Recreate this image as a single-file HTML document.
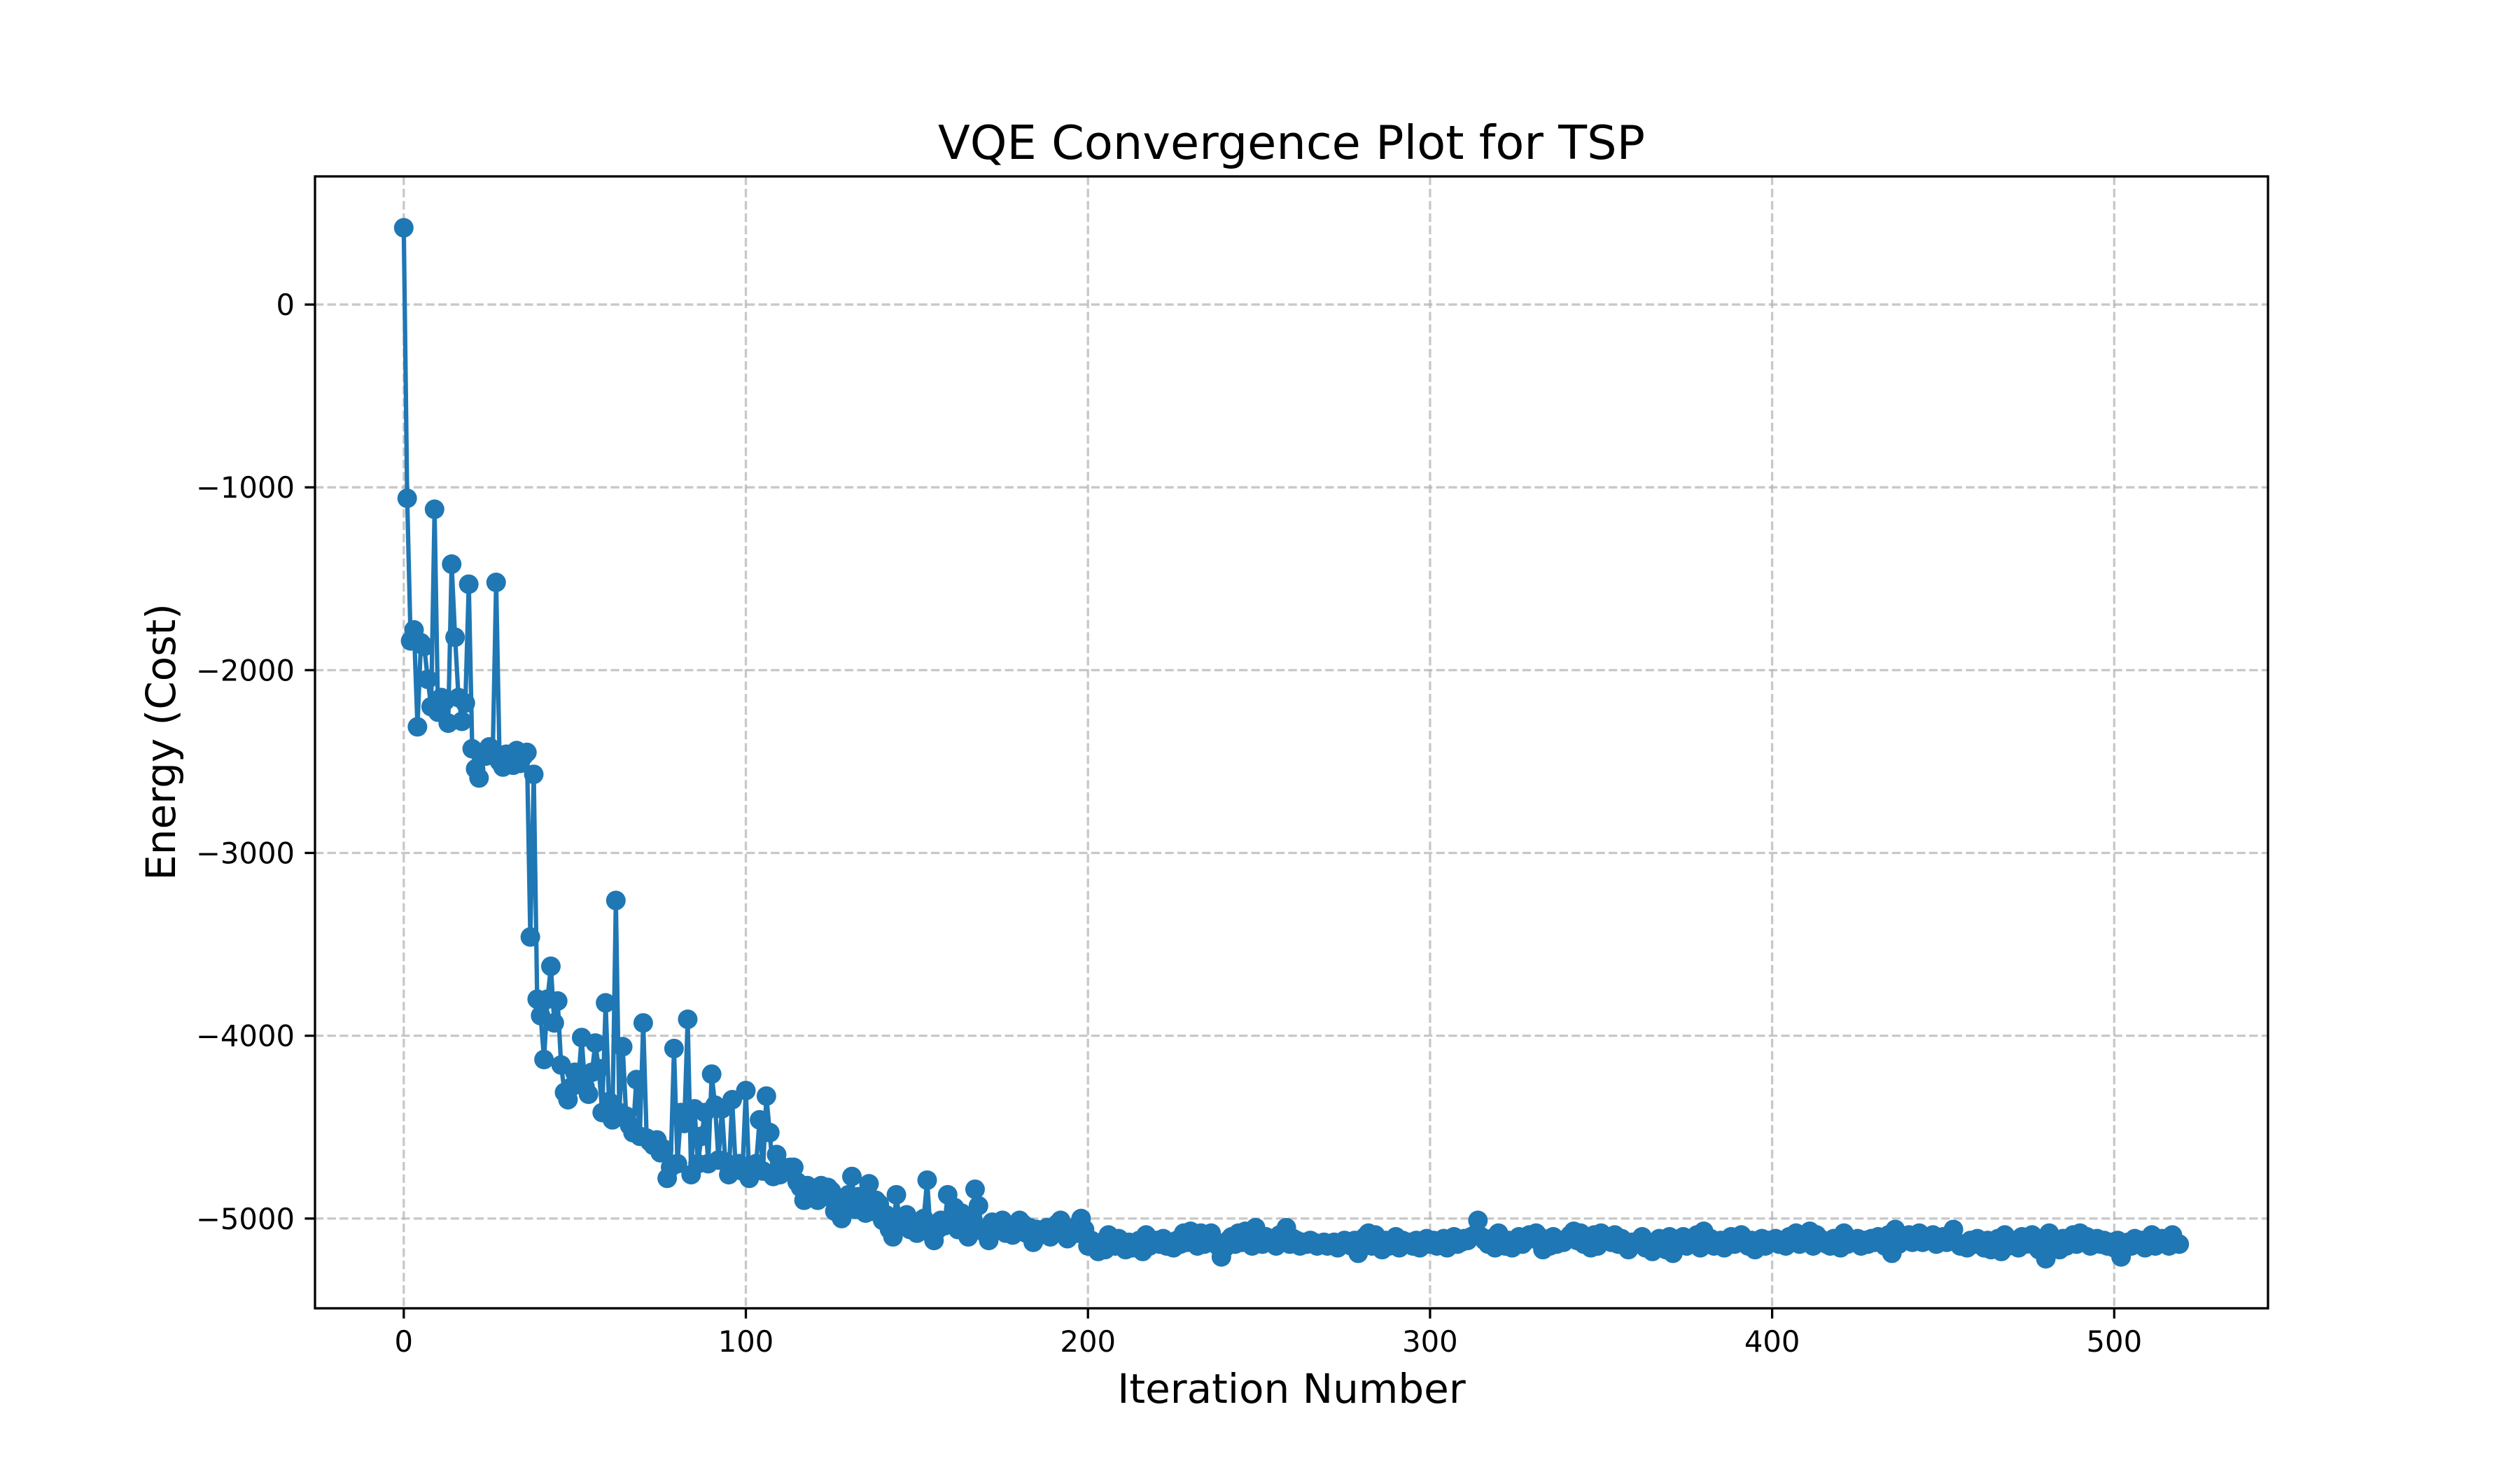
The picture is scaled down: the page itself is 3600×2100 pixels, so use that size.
<!DOCTYPE html>
<html><head><meta charset="utf-8">
<style>
html,body{margin:0;padding:0;background:#fff;}
svg{display:block;font-family:"DejaVu Sans","Liberation Sans",sans-serif;}
</style></head>
<body>
<svg id="chart" width="3600" height="2100" viewBox="0 0 3600 2100">
<rect x="0" y="0" width="3600" height="2100" fill="#fff"/>
<g id="grid"></g>
<g id="series"></g>
<rect x="450" y="252" width="2790" height="1617" fill="none" stroke="#000" stroke-width="3.3"/>
<g id="xticks"></g>
<g id="yticks"></g>
<text x="1845" y="227" font-size="67" text-anchor="middle">VQE Convergence Plot for TSP</text>
<text x="1845" y="2004" font-size="58" text-anchor="middle">Iteration Number</text>
<text x="0" y="0" font-size="58" text-anchor="middle" transform="translate(250,1060) rotate(-90)">Energy (Cost)</text>
</svg>
<script>
const xTickValues = [0,100,200,300,400,500];
const yTickValues = [0,-1000,-2000,-3000,-4000,-5000];
const yTickLabels = ["0","\u22121000","\u22122000","\u22123000","\u22124000","\u22125000"];
const energy = [
420,-1060,-1840,-1780,-2310,-1850,-1870,-2050,-2200,-1120,-2230,-2150,-2170,-2290,-1420,-1820,-2150,-2280,-2180,-1530,
-2430,-2540,-2590,-2450,-2470,-2420,-2460,-1520,-2500,-2530,-2460,-2490,-2520,-2440,-2510,-2470,-2450,-3460,-2570,-3800,
-3890,-4130,-3800,-3620,-3930,-3810,-4160,-4310,-4350,-4280,-4200,-4250,-4010,-4280,-4320,-4200,-4040,-4180,-4420,-3820,
-4360,-4460,-3260,-4420,-4060,-4440,-4490,-4530,-4240,-4550,-3930,-4560,-4580,-4600,-4570,-4640,-4620,-4780,-4720,-4070,
-4700,-4420,-4480,-3910,-4760,-4400,-4700,-4550,-4420,-4700,-4210,-4380,-4680,-4400,-4690,-4760,-4350,-4720,-4700,-4740,
-4300,-4780,-4720,-4700,-4460,-4740,-4330,-4530,-4770,-4650,-4760,-4720,-4740,-4720,-4720,-4800,
-4830,-4900,-4820,-4870,-4850,-4900,-4820,-4880,-4830,-4850,-4960,-4900,-5000,-4920,-4870,-4770,-4950,-4880,-4900,-4970,
-4810,-4960,-4900,-4920,-5010,-4980,-5060,-5100,-4870,-5020,-5000,-4980,-5060,-5020,-5080,-5040,-5000,-4790,-5080,-5120,
-5060,-5010,-5040,-4870,-5020,-4940,-5060,-4970,-5060,-5100,-5020,-4840,-4930,-5060,-5080,-5120,-5020,-5060,-5040,-5010,
-5080,-5060,-5090,-5070,-5010,-5030,-5080,-5050,-5130,-5060,-5090,-5070,-5050,-5100,-5080,-5030,-5010,-5060,-5110,-5090,
-5050,-5080,-5000,-5060,-5150,-5120,-5140,-5180,-5130,-5170,-5090,-5130,-5150,-5110,-5140,-5170,-5130,-5160,-5140,-5120,
-5180,-5090,-5150,-5130,-5120,-5140,-5110,-5150,-5130,-5160,-5120,-5140,-5080,-5130,-5070,-5120,-5150,-5080,-5140,-5110,
-5080,-5130,-5150,-5210,-5160,-5120,-5100,-5140,-5080,-5130,-5070,-5110,-5150,-5050,-5120,-5140,-5100,-5130,-5120,-5150,
-5090,-5130,-5050,-5140,-5110,-5120,-5150,-5130,-5140,-5120,-5130,-5150,-5140,-5130,-5150,-5140,-5130,-5160,-5140,-5120,
-5140,-5150,-5120,-5190,-5130,-5100,-5080,-5150,-5090,-5130,-5170,-5120,-5150,-5140,-5100,-5160,-5120,-5140,-5130,-5150,
-5120,-5160,-5130,-5110,-5140,-5120,-5150,-5130,-5110,-5160,-5120,-5100,-5140,-5130,-5110,-5120,-5100,-5090,-5010,-5100,
-5120,-5140,-5110,-5160,-5080,-5130,-5150,-5120,-5160,-5130,-5100,-5140,-5120,-5090,-5110,-5080,-5100,-5170,-5120,-5150,
-5100,-5140,-5120,-5130,-5110,-5090,-5070,-5120,-5080,-5140,-5100,-5160,-5090,-5150,-5080,-5120,-5100,-5130,-5090,-5140,
-5110,-5150,-5170,-5130,-5140,-5120,-5100,-5160,-5140,-5180,-5130,-5110,-5150,-5170,-5100,-5190,-5120,-5140,-5100,-5150,
-5120,-5130,-5090,-5160,-5070,-5130,-5110,-5150,-5140,-5120,-5160,-5130,-5100,-5140,-5110,-5090,-5130,-5150,-5120,-5170,
-5140,-5110,-5150,-5120,-5130,-5110,-5140,-5120,-5150,-5100,-5130,-5080,-5140,-5120,-5110,-5070,-5150,-5090,-5130,-5120,
-5140,-5150,-5110,-5130,-5160,-5080,-5140,-5120,-5130,-5110,-5150,-5120,-5140,-5110,-5130,-5100,-5120,-5150,-5090,-5190,
-5060,-5140,-5100,-5120,-5090,-5130,-5110,-5080,-5130,-5100,-5120,-5090,-5140,-5110,-5100,-5130,-5110,-5060,-5130,-5150,
-5140,-5160,-5120,-5140,-5110,-5130,-5160,-5120,-5170,-5140,-5110,-5180,-5090,-5150,-5130,-5120,-5160,-5100,-5140,-5120,
-5090,-5150,-5170,-5110,-5220,-5080,-5160,-5130,-5170,-5110,-5150,-5130,-5090,-5140,-5080,-5120,-5100,-5150,-5130,-5110,
-5140,-5120,-5150,-5130,-5160,-5120,-5210,-5140,-5130,-5150,-5110,-5140,-5120,-5160,-5130,-5090,-5150,-5140,-5110,-5130,
-5150,-5090,-5130,-5140
];

const NS = "http://www.w3.org/2000/svg";
const L = 450, R = 3240, T = 252, B = 1869;
const n = energy.length;
const xMin = -0.05 * (n - 1), xMax = (n - 1) * 1.05;
const yMin = -5491, yMax = 701;
function xs(v){ return L + (v - xMin) / (xMax - xMin) * (R - L); }
function ys(v){ return B - (v - yMin) / (yMax - yMin) * (B - T); }
function mk(tag, attrs){ const e = document.createElementNS(NS, tag); for (const k in attrs) e.setAttribute(k, attrs[k]); return e; }

const grid = document.getElementById('grid');
const xt = document.getElementById('xticks');
const yt = document.getElementById('yticks');
xTickValues.forEach(v => {
  const x = xs(v);
  const g = mk('line', {x1:x, x2:x, y1:T, y2:B, stroke:'#b0b0b0', 'stroke-opacity':0.7, 'stroke-width':3.3, 'stroke-dasharray':'12.3 5.3'});
  
  
  grid.appendChild(g);
  const t = mk('line', {x1:x, x2:x, y1:B, y2:B+14.6, stroke:'#000', 'stroke-width':3.3});
  
  
  xt.appendChild(t);
  const lb = mk('text', {x:x, y:B+62, 'font-size':41.7, 'text-anchor':'middle'});
  lb.textContent = String(v);
  
  
  xt.appendChild(lb);
});
yTickValues.forEach((v, i) => {
  const y = ys(v);
  const g = mk('line', {x1:L, x2:R, y1:y, y2:y, stroke:'#b0b0b0', 'stroke-opacity':0.7, 'stroke-width':3.3, 'stroke-dasharray':'12.3 5.3'});
  
  
  grid.appendChild(g);
  const t = mk('line', {x1:L-14.6, x2:L, y1:y, y2:y, stroke:'#000', 'stroke-width':3.3});
  
  
  yt.appendChild(t);
  const lb = mk('text', {x:L-29, y:y+15, 'font-size':41.7, 'text-anchor':'end'});
  lb.textContent = yTickLabels[i];
  
  
  yt.appendChild(lb);
});

const ser = document.getElementById('series');
const pts = energy.map((v, i) => xs(i).toFixed(1) + ',' + ys(v).toFixed(1)).join(' ');
const line = mk('polyline', {points:pts, fill:'none', stroke:'#1f77b4', 'stroke-width':6.25, 'stroke-linejoin':'round', 'stroke-linecap':'round'});


ser.appendChild(line);
energy.forEach((v, i) => {
  const c = mk('circle', {cx:xs(i), cy:ys(v), r:14, fill:'#1f77b4'});
  
  
  ser.appendChild(c);
});
</script>
</body></html>
